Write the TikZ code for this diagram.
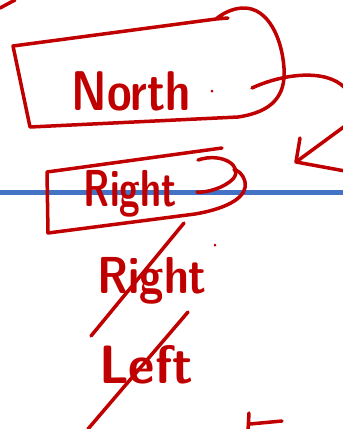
\documentclass[tikz,border=0pt]{standalone}
\usepackage{tikz}
\usetikzlibrary{arrows.meta,positioning,calc}
\definecolor{penRed}{RGB}{192,0,0}
\definecolor{lineBlue}{RGB}{68,114,196}

\begin{document}
\begin{tikzpicture}[
  x=1pt, y=-1pt,
  ink/.style   ={draw=penRed, line width=3.5pt, line cap=round, line join=round},
  word/.style  ={text=penRed, inner sep=0pt, anchor=base},
  strike/.style={draw=penRed, line width=3.5pt, line cap=round},
  rule/.style  ={draw=lineBlue, line width=5pt},
]
\useasboundingbox (0,0) rectangle (343,429);

% ================= BLUE LINE =================
\draw[rule] (0,192) coordinate (ruleW) -- (343,192) coordinate (ruleE);

% ================= WORDS =================
\node[word, xscale=0.8, font=\sffamily\bfseries\fontsize{56}{56}\selectfont] (north) at (131,110) {North};
\node[word, xscale=0.72, font=\sffamily\bfseries\fontsize{52}{52}\selectfont] (right) at (130,206) {Right};
\node[word, xscale=0.85, font=\sffamily\bfseries\fontsize{52}{52}\selectfont] (rightx) at (152,293) {Right};
\node[word, xscale=0.95, font=\sffamily\bfseries\fontsize{54}{54}\selectfont] (leftx) at (146,383) {Left};

% dots
\fill[penRed] (212,91) circle (1.5pt);
\fill[penRed] (215,245) circle (1.5pt);

% ================= BOXES =================
% North box
\draw[ink] (228,18) -- (216,19) -- (13,46) -- (30,127) -- (238,117)
  .. controls (272,112) and (286,96) .. (284,68)
  .. controls (282,38) and (268,8) .. (244,8)
  .. controls (232,8) and (222,14) .. (216,19);
% Right box
\draw[ink] (222,148) -- (47,172) -- (48,233) -- (195,214)
  .. controls (230,208) and (248,196) .. (245,182)
  .. controls (243,174) and (238,170) .. (234,170);
\draw[ink] (198,160) .. controls (222,152) and (244,166) .. (233,179)
  .. controls (224,188) and (206,193) .. (197,192);

% ================= ARROW =================
\coordinate (outE) at (345,88);
\coordinate (backE) at (345,126);
\coordinate (tip) at (296,162);
\draw[ink] (252,88) .. controls (282,74) and (326,68) .. (outE);
\draw[ink] (backE) -- (tip);
\draw[ink] (300,138) -- (tip) -- (345,171);

% ================= STRIKES =================
\draw[strike] (91,336) -- (184,223);
\draw[strike] (88,429) -- (188,312);

% ================= MARKS =================
\draw[ink] (0,8) -- (15,0);
\draw[ink] (249,413) -- (248,431);
\draw[ink] (250,424) -- (282,421);

\end{tikzpicture}
\end{document}
